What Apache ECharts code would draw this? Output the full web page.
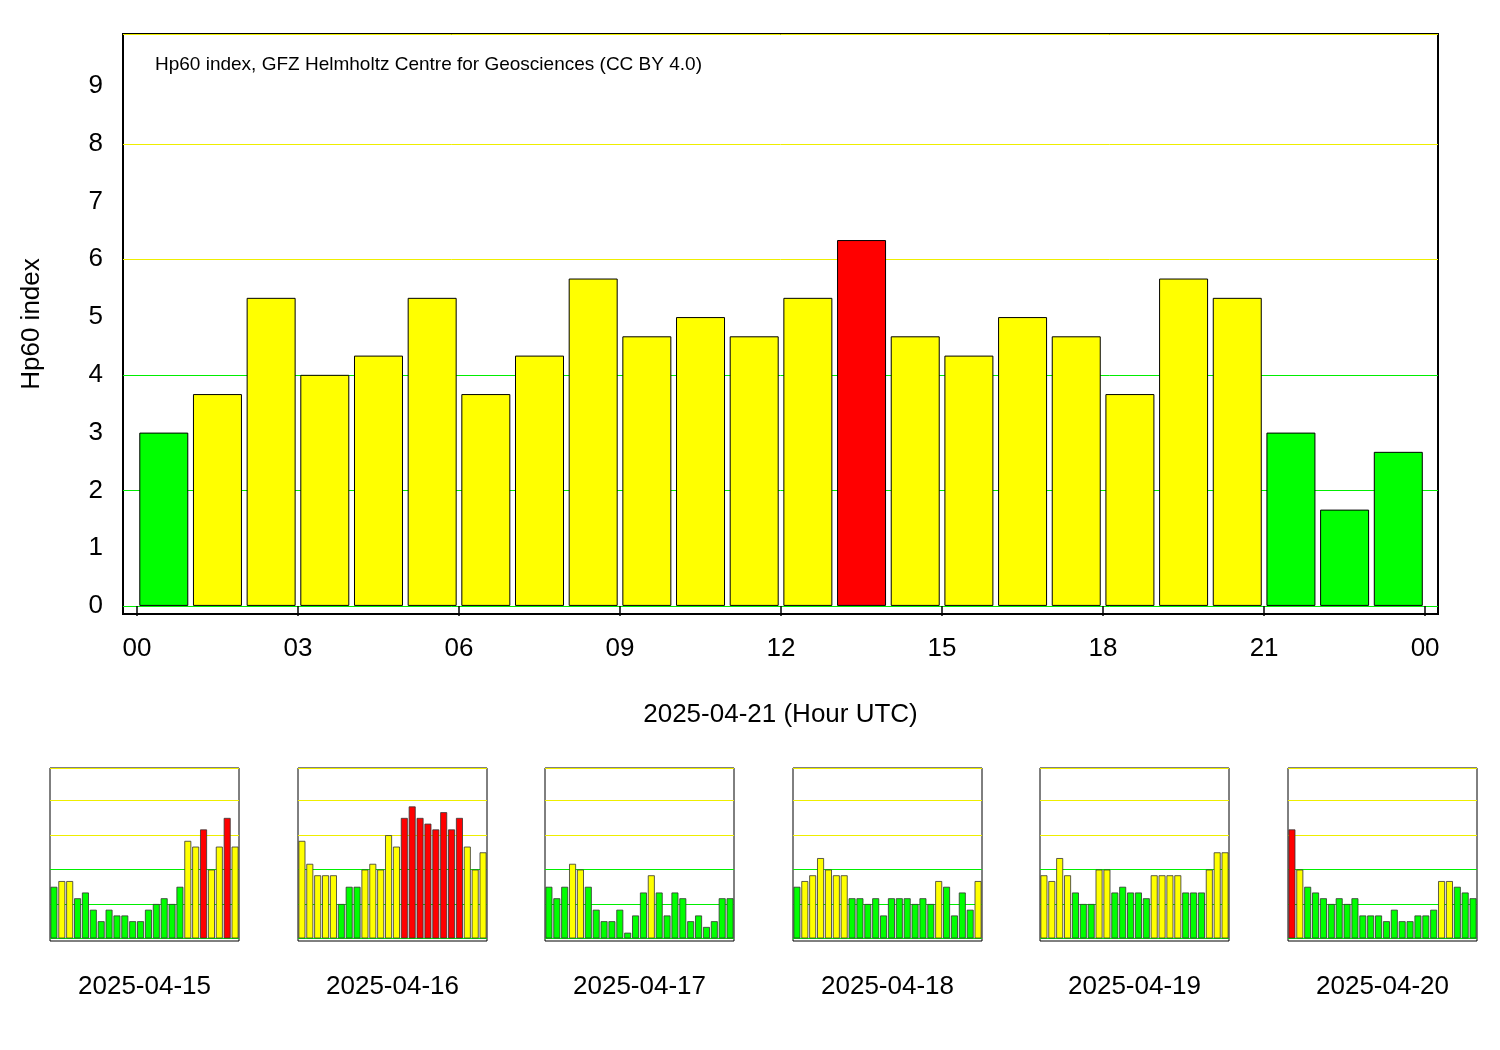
<!DOCTYPE html>
<html><head><meta charset="utf-8">
<script src="https://cdn.jsdelivr.net/npm/echarts@6/dist/echarts.min.js"></script>
<style>html,body{margin:0;padding:0;background:#fff}#c{width:1500px;height:1050px}</style>
</head><body><div id="c"></div>
<script>
const mainDate = '2025-04-21';
const mainValues = [3,3.667,5.333,4,4.333,5.333,3.667,4.333,5.667,4.667,5,4.667,5.333,6.333,4.667,4.333,5,4.667,3.667,5.667,5.333,3,1.667,2.667];
const xTicks = [0,3,6,9,12,15,18,21,24];
const yTicks = [0,1,2,3,4,5,6,7,8,9];
const smallDates = ['2025-04-15','2025-04-16','2025-04-17','2025-04-18','2025-04-19','2025-04-20'];
const d15 = [3,3.333,3.333,2.333,2.667,1.667,1,1.667,1.333,1.333,1,1,1.667,2,2.333,2,3,5.667,5.333,6.333,4,5.333,7,5.333];
const d16 = [5.667,4.333,3.667,3.667,3.667,2,3,3,4,4.333,4,6,5.333,7,7.667,7,6.667,6.333,7.333,6.333,7,5.333,4,5];
const d17 = [3,2.333,3,4.333,4,3,1.667,1,1,1.667,0.333,1.333,2.667,3.667,2.667,1.333,2.667,2.333,1,1.333,0.667,1,2.333,2.333];
const d18 = [3,3.333,3.667,4.667,4,3.667,3.667,2.333,2.333,2,2.333,1.333,2.333,2.333,2.333,2,2.333,2,3.333,3,1.333,2.667,1.667,3.333];
const d19 = [3.667,3.333,4.667,3.667,2.667,2,2,4,4,2.667,3,2.667,2.667,2.333,3.667,3.667,3.667,3.667,2.667,2.667,2.667,4,5,5];
const d20 = [6.333,4,3,2.667,2.333,2,2.333,2,2.333,1.333,1.333,1.333,1,1.667,1,1,1.333,1.333,1.667,3.333,3.333,3,2.667,2.333];
const smallData = [d15,d16,d17,d18,d19,d20];

function col(v){ return v>6 ? '#ff0000' : (v>3 ? '#ffff00' : '#00ff00'); }
const gridColors = ['rgba(0,0,0,0)','#00ee00','#00ee00','#00ee00','#eeee00','#eeee00','#eeee00','#cc0000','#cc0000','#cc0000'];
const F = 'Liberation Sans, Arial, sans-serif';

const grids=[], xAxes=[], yAxes=[], series=[], graphics=[];
grids.push({left:123, top:34, right:62, bottom:436, show:true, borderColor:'#000', borderWidth:2, backgroundColor:'#fff'});
xAxes.push({type:'value', gridIndex:0, min:-0.26, max:24.24,
  axisLine:{show:false}, splitLine:{show:false},
  axisTick:{show:true, customValues:xTicks, length:10, lineStyle:{color:'#000', width:1.5}},
  axisLabel:{customValues:xTicks, formatter:v=>String(v%24).padStart(2,'0'), fontSize:26, color:'#000', fontFamily:F, margin:22},
  name: mainDate+' (Hour UTC)', nameLocation:'middle', nameGap:88, nameTextStyle:{fontSize:26, color:'#000', fontFamily:F}});
yAxes.push({type:'value', gridIndex:0, min:-0.14, max:9.9,
  axisLine:{show:false}, axisTick:{show:false},
  splitLine:{show:true, customValues:yTicks, lineStyle:{color:gridColors, width:1}},
  axisLabel:{customValues:yTicks, fontSize:26, color:'#000', fontFamily:F, margin:20},
  name:'Hp60 index', nameLocation:'middle', nameGap:78, nameTextStyle:{fontSize:26, color:'#000', fontFamily:F}});
series.push({type:'bar', xAxisIndex:0, yAxisIndex:0, barWidth:49, silent:true,
  data: mainValues.map((v,i)=>({value:[i+0.5, v], itemStyle:{color:col(v)}})),
  itemStyle:{borderColor:'#000', borderWidth:1}});

const smallLeft = [50,298,545,793,1040,1288];
smallData.forEach((d,k)=>{
  const gi=k+1;
  grids.push({left:smallLeft[k], width:189, top:768, height:173, show:true, borderColor:'#000', borderWidth:1, backgroundColor:'#fff'});
  xAxes.push({type:'category', gridIndex:gi, data:d.map((_,i)=>i), boundaryGap:true,
    axisLine:{show:false}, axisTick:{show:false}, axisLabel:{show:false}, splitLine:{show:false},
    name:smallDates[k], nameLocation:'middle', nameGap:33, nameTextStyle:{fontSize:26, color:'#000', fontFamily:F}});
  yAxes.push({type:'value', gridIndex:gi, min:-0.15, max:9.9,
    axisLine:{show:false}, axisTick:{show:false}, axisLabel:{show:false},
    splitLine:{show:true, customValues:yTicks, lineStyle:{color:gridColors, width:1}}});
  series.push({type:'bar', xAxisIndex:gi, yAxisIndex:gi, barCategoryGap:'12%', silent:true,
    data:d.map(v=>({value:v, itemStyle:{color:col(v)}})),
    itemStyle:{borderColor:'#333', borderWidth:0.8}});
});

const chart = echarts.init(document.getElementById('c'));
chart.setOption({
  animation:false, backgroundColor:'#fff',
  title:{text:'Hp60 index, GFZ Helmholtz Centre for Geosciences (CC BY 4.0)', left:150, top:50,
    textStyle:{fontSize:19, fontWeight:'normal', color:'#000', fontFamily:F}},
  grid:grids, xAxis:xAxes, yAxis:yAxes, series:series
});
</script></body></html>
